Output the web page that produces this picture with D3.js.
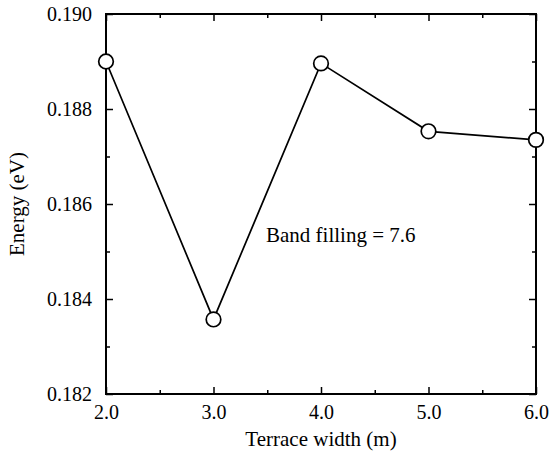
<!DOCTYPE html>
<html><head><meta charset="utf-8">
<script src="https://cdn.jsdelivr.net/npm/d3@7"></script>
<style>body{margin:0;background:#fff}svg{display:block}
svg text{font-family:"Liberation Serif","DejaVu Serif",serif;fill:#000}</style>
</head><body>
<script>
const terraceWidth = [2.0, 3.0, 4.0, 5.0, 6.0];
const energy = [0.18900, 0.18357, 0.18896, 0.18753, 0.18735];
const xTicks = [2.0, 3.0, 4.0, 5.0, 6.0];
const xMinor = [2.5, 3.5, 4.5, 5.5];
const yTicks = [0.182, 0.184, 0.186, 0.188, 0.190];
const yMinor = [0.183, 0.185, 0.187, 0.189];
const annotation = "Band filling = 7.6";

const W = 551, H = 456;
const m = {l: 106, r: 15, t: 14, b: 62};
const svg = d3.select("body").append("svg").attr("width", W).attr("height", H);
const x = d3.scaleLinear().domain([2, 6]).range([m.l, W - m.r]);
const y = d3.scaleLinear().domain([0.182, 0.190]).range([H - m.b, m.t]);
const font = '"Liberation Serif", "DejaVu Serif", serif';

const g = svg.append("g");
function ax(axis, tr) {
  const a = g.append("g").attr("transform", tr).call(axis);
  a.attr("font-family", null).attr("font-size", null);
  a.select(".domain").remove();
  a.selectAll("line").attr("stroke", "#000").attr("stroke-width", 1.5);
  a.selectAll("text").style("font-family", font).style("font-size", "20px").style("fill", "#000");
  return a;
}
const iw = W - m.r - m.l, ih = H - m.b - m.t;
// bottom
ax(d3.axisBottom(x).tickValues(xTicks).tickSize(-7).tickPadding(11).tickFormat(d3.format(".1f")), `translate(0,${H - m.b})`);
ax(d3.axisBottom(x).tickValues(xMinor).tickSize(-4).tickFormat(""), `translate(0,${H - m.b})`);
// top
ax(d3.axisTop(x).tickValues(xTicks).tickSize(-7).tickFormat(""), `translate(0,${m.t})`);
ax(d3.axisTop(x).tickValues(xMinor).tickSize(-4).tickFormat(""), `translate(0,${m.t})`);
// left
ax(d3.axisLeft(y).tickValues(yTicks).tickSize(-7).tickPadding(14).tickFormat(d3.format(".3f")), `translate(${m.l},0)`);
ax(d3.axisLeft(y).tickValues(yMinor).tickSize(-4).tickFormat(""), `translate(${m.l},0)`);
// right
ax(d3.axisRight(y).tickValues(yTicks).tickSize(-7).tickFormat(""), `translate(${W - m.r},0)`);
ax(d3.axisRight(y).tickValues(yMinor).tickSize(-4).tickFormat(""), `translate(${W - m.r},0)`);

g.append("rect").attr("x", m.l).attr("y", m.t).attr("width", iw).attr("height", ih)
  .attr("fill", "none").attr("stroke", "#000").attr("stroke-width", 2);

const pts = terraceWidth.map((d, i) => [d, energy[i]]);
g.append("path").datum(pts)
  .attr("d", d3.line().x(d => x(d[0])).y(d => y(d[1])))
  .attr("fill", "none").attr("stroke", "#000").attr("stroke-width", 1.7);
g.selectAll("circle.pt").data(pts).join("circle")
  .attr("cx", d => x(d[0])).attr("cy", d => y(d[1])).attr("r", 7.3)
  .attr("fill", "#fff").attr("stroke", "#000").attr("stroke-width", 1.7);

function txt(sel) { return sel.style("font-family", font).style("font-size", "21px").style("fill", "#000"); }
txt(g.append("text").attr("x", 266).attr("y", 242).text(annotation));
txt(g.append("text").attr("x", m.l + iw / 2).attr("y", 446).attr("text-anchor", "middle")
  .text("Terrace width (m)"));
txt(g.append("text").attr("transform", `translate(24,${m.t + ih / 2}) rotate(-90)`).attr("text-anchor", "middle")
  .text("Energy (eV)"));
</script>
</body></html>
